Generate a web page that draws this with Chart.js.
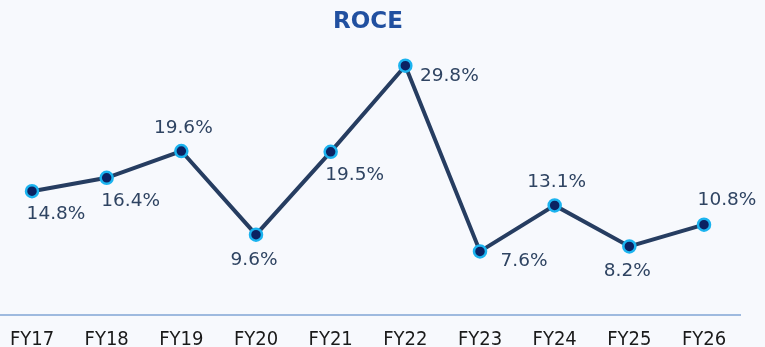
<!DOCTYPE html>
<html>
<head>
<meta charset="utf-8">
<script src="https://cdn.jsdelivr.net/npm/chart.js@4/dist/chart.umd.min.js"></script>
<style>
  html, body { margin: 0; padding: 0; background: #f7f9fd; }
  #wrap { width: 765px; height: 347px; position: relative; }
</style>
</head>
<body>
<div id="wrap"><canvas id="c"></canvas></div>
<script>
const years = ['FY17', 'FY18', 'FY19', 'FY20', 'FY21', 'FY22', 'FY23', 'FY24', 'FY25', 'FY26'];
const roce = [14.8, 16.4, 19.6, 9.6, 19.5, 29.8, 7.6, 13.1, 8.2, 10.8];
// where each value label sits relative to its point
const labelSide = ['belowRight', 'belowRight', 'above', 'below', 'belowRight', 'right', 'right', 'above', 'below', 'aboveRight'];

const sideOffsets = {
  above: [2, -23],
  below: [-2, 25],
  right: [44, 10],
  belowRight: [24, 23],
  aboveRight: [23, -24]
};

const valueLabels = {
  id: 'valueLabels',
  afterDatasetsDraw(chart) {
    const ctx = chart.ctx;
    const meta = chart.getDatasetMeta(0);
    ctx.save();
    ctx.font = '18.5px "DejaVu Sans"';
    ctx.fillStyle = '#2f4462';
    ctx.textAlign = 'center';
    ctx.textBaseline = 'middle';
    meta.data.forEach((pt, i) => {
      const off = sideOffsets[labelSide[i]];
      ctx.fillText(roce[i].toFixed(1) + '%', pt.x + off[0], pt.y + off[1]);
    });
    ctx.restore();
  }
};

const baseLine = {
  id: 'baseLine',
  beforeDatasetsDraw(chart) {
    const ctx = chart.ctx;
    const y = chart.scales.y.getPixelForValue(0);
    ctx.save();
    ctx.strokeStyle = '#9ebadf';
    ctx.lineWidth = 2;
    ctx.beginPath();
    ctx.moveTo(0, y);
    ctx.lineTo(741, y);
    ctx.stroke();
    ctx.restore();
  }
};

new Chart(document.getElementById('c'), {
  type: 'line',
  data: {
    labels: years,
    datasets: [{
      data: roce,
      borderColor: '#263d61',
      borderWidth: 4,
      pointRadius: 6,
      pointBorderWidth: 2.5,
      pointBackgroundColor: '#0b2262',
      pointBorderColor: '#1bb3ef',
      tension: 0,
      clip: false
    }]
  },
  options: {
    responsive: true,
    maintainAspectRatio: false,
    animation: false,
    layout: { autoPadding: false, padding: { left: 32, right: 61, top: 0, bottom: 0 } },
    plugins: {
      legend: { display: false },
      tooltip: { enabled: false },
      title: {
        display: true,
        text: 'ROCE',
        fullSize: false,
        color: '#2150a0',
        font: { family: '"DejaVu Sans"', size: 23, weight: 'bold' },
        padding: { top: 8, bottom: 5 }
      }
    },
    scales: {
      x: {
        offset: false,
        grid: { display: false, drawTicks: false },
        border: { display: false },
        afterFit(scale) {
          scale.height = 32;
          scale.paddingLeft = 0;
          scale.paddingRight = 0;
        },
        ticks: {
          color: '#1a1a1a',
          maxRotation: 0,
          font: { family: '"DejaVu Sans Condensed"', size: 20 },
          padding: 13
        }
      },
      y: {
        display: false,
        min: 0,
        max: 32.8
      }
    }
  },
  plugins: [baseLine, valueLabels]
});
</script>
</body>
</html>
